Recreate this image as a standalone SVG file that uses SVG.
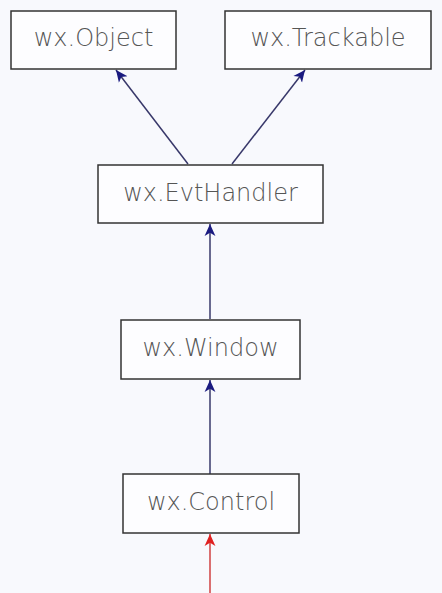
<svg xmlns="http://www.w3.org/2000/svg" width="442" height="593" viewBox="0 0 442 593">
<style>
.box{fill:#fdfdff;stroke:#333;stroke-width:1.5}
.lbl{font-family:"DejaVu Sans",sans-serif;font-size:24px;fill:#555;text-anchor:middle;font-weight:300}
.edge{stroke:#38386a;stroke-width:1.5;fill:none}
.red{stroke:#d04040;stroke-width:1.5;fill:none}
</style>
<defs>
<marker id="ah" viewBox="0 0 12 12" refX="11" refY="6" markerWidth="13" markerHeight="13" markerUnits="userSpaceOnUse" orient="auto">
<path d="M0,1 L11,6 L0,11 L3,6 Z" fill="#1a1a80"/>
</marker>
<marker id="ahr" viewBox="0 0 12 12" refX="11" refY="6" markerWidth="13" markerHeight="13" markerUnits="userSpaceOnUse" orient="auto">
<path d="M0,1 L11,6 L0,11 L3,6 Z" fill="#e02020"/>
</marker>
</defs>
<rect width="442" height="593" fill="#f8f9fd"/>
<g id="connectors">
<line class="edge" x1="188" y1="164" x2="116" y2="70" marker-end="url(#ah)"/>
<line class="edge" x1="232" y1="164" x2="305" y2="70" marker-end="url(#ah)"/>
<line class="edge" x1="210" y1="319" x2="210" y2="224" marker-end="url(#ah)"/>
<line class="edge" x1="210" y1="474" x2="210" y2="380" marker-end="url(#ah)"/>
<line class="red" x1="210" y1="593" x2="210" y2="534" marker-end="url(#ahr)"/>
</g>
<g id="wx-object">
<rect class="box" x="11" y="11" width="165" height="58"/>
<text class="lbl" x="93.5" y="46">wx.Object</text>
</g>
<g id="wx-trackable">
<rect class="box" x="225" y="11" width="206" height="58"/>
<text class="lbl" x="328" y="46">wx.Trackable</text>
</g>
<g id="wx-evthandler">
<rect class="box" x="98" y="165" width="225" height="58"/>
<text class="lbl" x="210.5" y="201">wx.EvtHandler</text>
</g>
<g id="wx-window">
<rect class="box" x="121" y="320" width="179" height="59"/>
<text class="lbl" x="210.5" y="356">wx.Window</text>
</g>
<g id="wx-control">
<rect class="box" x="123" y="474" width="176" height="59"/>
<text class="lbl" x="211" y="510">wx.Control</text>
</g>
</svg>
